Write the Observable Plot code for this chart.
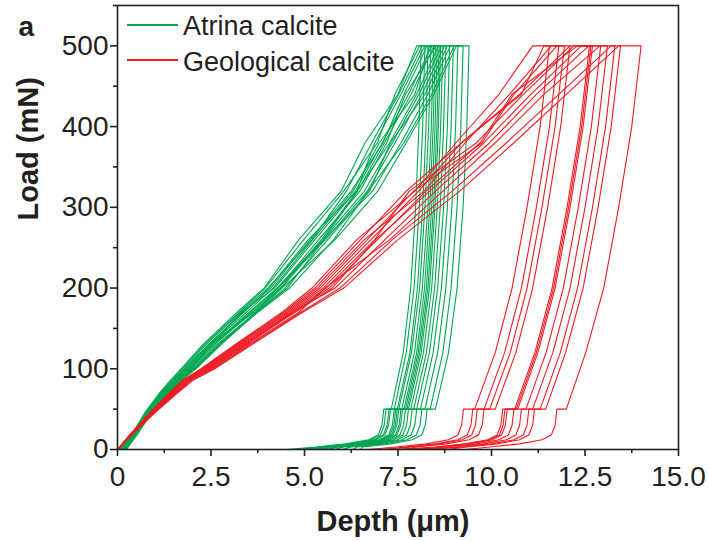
<!DOCTYPE html>
<html><head><meta charset="utf-8">
<script src="https://cdn.jsdelivr.net/npm/d3@7"></script>
<script src="https://cdn.jsdelivr.net/npm/@observablehq/plot@0.6"></script>
<style>
body{margin:0;background:#fff;}
#wrap{position:relative;width:708px;height:541px;font-family:"Liberation Sans",Arial,sans-serif;color:#231f20;}
.sw{position:absolute;height:2px;width:51px;left:127px;}
.lt{position:absolute;left:183px;font-size:27px;line-height:27px;white-space:nowrap;}
</style></head><body><div id="wrap"></div>
<script>
const seriesNames = ["Atrina calcite", "Geological calcite"];
const seriesColors = ["#00a651", "#ed1c24"];
const xTicks = [0, 2.5, 5, 7.5, 10, 12.5, 15];
const xTickLabels = ["0", "2.5", "5.0", "7.5", "10.0", "12.5", "15.0"];
const xMinor = [1.25, 3.75, 6.25, 8.75, 11.25, 13.75];
const yTicks = [0, 100, 200, 300, 400, 500];
const yMinor = [50, 150, 250, 350, 450, 550];
const xTitle = "Depth (μm)";
const yTitle = "Load (mN)";
const panelLetter = "a";

// load levels (mN) for loading and unloading branches
const loadUp = [0, 20, 45, 70, 85, 100, 130, 170, 200, 260, 320, 380, 440, 500];
const loadDown = [500, 400, 300, 200, 120, 50, 50, 30, 18, 12, 7, 3, 0];

// Atrina calcite: depth (µm) at loadUp
const atrinaUp = [
 [0.06,0.40,0.72,1.12,1.40,1.70,2.28,3.20,3.92,4.85,5.98,6.62,7.50,8.00],
 [0.10,0.44,0.76,1.15,1.44,1.73,2.32,3.26,3.95,4.98,6.05,6.95,7.42,8.08],
 [0.08,0.43,0.74,1.17,1.46,1.77,2.36,3.30,4.02,5.20,6.12,6.80,7.52,8.15],
 [0.12,0.46,0.78,1.14,1.47,1.80,2.42,3.38,4.05,5.10,6.40,6.88,7.58,8.22],
 [0.05,0.42,0.80,1.20,1.50,1.83,2.44,3.35,4.10,5.15,6.25,7.10,7.66,8.28],
 [0.14,0.47,0.79,1.19,1.52,1.85,2.48,3.45,4.16,5.22,6.30,7.00,7.95,8.35],
 [0.10,0.45,0.82,1.22,1.55,1.88,2.52,3.32,4.20,5.28,6.36,7.08,7.78,8.40],
 [0.16,0.48,0.83,1.24,1.56,1.91,2.54,3.52,4.26,5.50,6.42,7.14,7.85,8.46],
 [0.12,0.47,0.81,1.25,1.58,1.93,2.58,3.56,4.30,5.38,6.48,7.20,7.70,8.52],
 [0.18,0.50,0.85,1.27,1.60,1.96,2.60,3.60,4.35,5.45,6.40,7.28,8.00,8.58],
 [0.15,0.49,0.84,1.28,1.62,1.98,2.47,3.65,4.38,5.50,6.60,7.35,8.06,8.66],
 [0.20,0.51,0.87,1.30,1.64,2.01,2.66,3.70,4.28,5.56,6.68,7.42,8.14,8.74],
 [0.14,0.50,0.86,1.31,1.65,2.03,2.68,3.74,4.48,5.62,6.74,7.30,8.22,8.82],
 [0.22,0.53,0.89,1.33,1.67,2.05,2.72,3.70,4.54,5.52,6.82,7.58,8.30,8.90],
 [0.18,0.52,0.88,1.34,1.68,2.07,2.74,3.75,4.60,5.78,6.70,7.66,8.40,9.00],
 [0.24,0.55,0.90,1.35,1.70,2.10,2.77,3.72,4.40,5.82,6.96,7.72,8.46,9.06]
];
// Atrina calcite: depth (µm) at loadDown
const atrinaDown = [
 [8.12,8.06,7.97,7.84,7.64,7.32,7.12,7.07,6.97,6.72,6.10,5.30,4.50],
 [8.22,8.16,8.07,7.93,7.72,7.40,7.18,7.13,7.03,6.78,6.20,5.40,4.90],
 [8.30,8.25,8.16,8.02,7.82,7.48,7.26,7.21,7.11,6.86,6.28,5.50,5.10],
 [8.38,8.32,8.22,8.08,7.86,7.52,7.30,7.25,7.15,6.90,6.30,5.55,4.80],
 [8.45,8.39,8.30,8.15,7.94,7.60,7.40,7.35,7.25,7.00,6.42,5.62,5.30],
 [8.50,8.44,8.35,8.21,8.00,7.66,7.44,7.39,7.29,7.04,6.45,5.70,5.20],
 [8.55,8.49,8.40,8.26,8.04,7.70,7.48,7.43,7.33,7.08,6.50,5.72,5.50],
 [8.60,8.54,8.45,8.30,8.08,7.74,7.52,7.47,7.37,7.12,6.55,5.80,5.40],
 [8.64,8.58,8.49,8.34,8.12,7.78,7.58,7.53,7.43,7.18,6.60,5.85,5.70],
 [8.70,8.64,8.55,8.40,8.18,7.84,7.62,7.57,7.47,7.22,6.65,5.90,5.60],
 [8.78,8.72,8.63,8.48,8.26,7.92,7.70,7.65,7.55,7.30,6.72,5.95,5.90],
 [8.88,8.82,8.72,8.56,8.34,8.00,7.78,7.73,7.63,7.38,6.80,6.05,5.80],
 [8.98,8.92,8.82,8.66,8.44,8.10,7.88,7.83,7.73,7.48,6.90,6.15,6.10],
 [9.10,9.04,8.94,8.78,8.56,8.22,8.00,7.95,7.85,7.60,7.00,6.25,6.00],
 [9.24,9.18,9.08,8.92,8.70,8.36,8.14,8.09,7.99,7.74,7.15,6.40,6.30],
 [9.40,9.34,9.24,9.08,8.85,8.50,8.28,8.23,8.13,7.88,7.30,6.55,6.50]
];
// Geological calcite: depth (µm) at loadUp
const geoUp = [
 [0,0.36,0.86,1.38,1.72,2.23,3.15,4.40,5.20,6.40,7.95,9.05,10.20,11.10],
 [0,0.37,0.88,1.40,1.74,2.26,3.18,4.45,5.28,6.50,7.72,9.20,10.80,11.40],
 [0,0.38,0.90,1.41,1.76,2.29,3.22,4.50,5.35,6.60,8.20,9.30,10.48,11.60],
 [0,0.37,0.89,1.43,1.78,2.32,3.26,4.55,5.42,6.68,7.92,9.75,10.60,11.75],
 [0,0.39,0.92,1.45,1.80,2.35,3.30,4.60,5.50,6.78,8.05,9.20,10.75,12.10],
 [0,0.38,0.91,1.47,1.83,2.38,3.34,4.65,5.58,6.88,7.80,9.60,10.85,12.20],
 [0,0.40,0.94,1.49,1.85,2.41,3.38,4.70,5.66,6.95,8.25,9.70,10.55,12.30],
 [0,0.39,0.93,1.51,1.88,2.45,3.42,4.75,5.74,6.90,8.35,9.80,11.05,12.40],
 [0,0.41,0.96,1.53,1.90,2.48,3.46,4.67,5.82,7.15,8.50,9.95,11.20,12.60],
 [0,0.40,0.95,1.55,1.93,2.52,3.50,4.85,5.55,7.28,8.70,10.10,11.40,12.90],
 [0,0.42,0.98,1.57,1.96,2.56,3.55,4.90,5.95,7.35,8.95,10.40,11.80,13.20],
 [0,0.42,0.99,1.60,2.00,2.60,3.60,4.95,6.05,7.50,9.15,10.60,12.00,13.40]
];
// Geological calcite: depth (µm) at loadDown
const geoDown = [
 [11.55,11.30,10.95,10.55,10.10,9.55,9.25,9.20,9.10,8.85,8.25,7.45,6.70],
 [11.80,11.55,11.20,10.80,10.35,9.80,9.50,9.45,9.35,9.10,8.50,7.70,7.20],
 [11.95,11.70,11.35,10.95,10.50,9.95,9.62,9.57,9.47,9.22,8.62,7.82,7.00],
 [12.10,11.85,11.50,11.10,10.65,10.10,9.80,9.75,9.65,9.40,8.80,8.00,7.60],
 [12.62,12.37,12.02,11.62,11.16,10.62,10.30,10.25,10.15,9.90,9.30,8.50,7.40],
 [12.66,12.41,12.06,11.66,11.20,10.66,10.36,10.31,10.21,9.96,9.36,8.56,7.90],
 [12.70,12.45,12.10,11.70,11.24,10.70,10.42,10.37,10.27,10.02,9.42,8.62,8.20],
 [12.92,12.67,12.32,11.92,11.46,10.92,10.60,10.55,10.45,10.20,9.60,8.80,7.80],
 [13.10,12.85,12.50,12.10,11.64,11.10,10.80,10.75,10.65,10.40,9.80,9.00,8.50],
 [13.30,13.05,12.70,12.30,11.84,11.30,11.00,10.95,10.85,10.60,10.00,9.20,8.00],
 [13.45,13.20,12.85,12.45,11.98,11.45,11.15,11.10,11.00,10.75,10.15,9.35,8.80],
 [14.00,13.75,13.40,13.00,12.52,12.00,11.75,11.70,11.60,11.35,10.75,9.95,9.30]
];

const rows = [];
function addCurves(name, ups, downs) {
  ups.forEach((u, i) => {
    const id = name + "-" + i;
    u.forEach((d, k) => rows.push({depth: d, load: loadUp[k], id, series: name}));
    downs[i].forEach((d, k) => rows.push({depth: d, load: loadDown[k], id, series: name}));
  });
}
addCurves(seriesNames[0], atrinaUp, atrinaDown);
addCurves(seriesNames[1], geoUp, geoDown);

const ink = "#231f20";
const chart = Plot.plot({
  width: 708, height: 541,
  marginLeft: 117, marginRight: 30, marginTop: 5, marginBottom: 92,
  style: {fontFamily: "'Liberation Sans', Arial, sans-serif", color: ink, background: "white", overflow: "visible"},
  x: {domain: [0, 15]},
  y: {domain: [0, 550]},
  color: {domain: seriesNames, range: seriesColors},
  marks: [
    Plot.line(rows, {x: "depth", y: "load", z: "id", stroke: "series", strokeWidth: 1.1}),
    Plot.frame({stroke: ink, strokeWidth: 1.6}),
    Plot.axisX(xTicks, {tickSize: 7, tickPadding: 10, strokeWidth: 1.6, fontSize: 28, label: null,
      tickFormat: d => xTickLabels[xTicks.indexOf(d)]}),
    Plot.axisX(xMinor, {tickSize: 4, strokeWidth: 1.6, tickFormat: () => "", label: null}),
    Plot.axisY(yTicks, {tickSize: 7, tickPadding: 2, strokeWidth: 1.6, fontSize: 28, label: null,
      tickFormat: d => String(d)}),
    Plot.axisY(yMinor, {tickSize: 4, strokeWidth: 1.6, tickFormat: () => "", label: null}),
    Plot.text([yTitle], {frameAnchor: "left", dx: -89, dy: -7, rotate: -90, lineAnchor: "middle", fontSize: 29, fontWeight: "bold", fill: ink}),
    Plot.text([xTitle], {frameAnchor: "bottom", dx: -5, dy: 72, lineAnchor: "middle", fontSize: 29, fontWeight: "bold", fill: ink}),
    Plot.text([panelLetter], {frameAnchor: "top-left", dx: -99, dy: 22, lineAnchor: "middle", textAnchor: "start", fontSize: 28, fontWeight: "bold", fill: ink})
  ]
});
const wrap = document.getElementById("wrap");
wrap.appendChild(chart);
const legTops = [24, 59];
const legText = [13, 49];
seriesNames.forEach((n, i) => {
  const sw = document.createElement("div");
  sw.className = "sw";
  sw.style.top = legTops[i] + "px";
  sw.style.background = seriesColors[i];
  wrap.appendChild(sw);
  const t = document.createElement("div");
  t.className = "lt";
  t.style.top = legText[i] + "px";
  t.textContent = n;
  wrap.appendChild(t);
});
</script></body></html>
